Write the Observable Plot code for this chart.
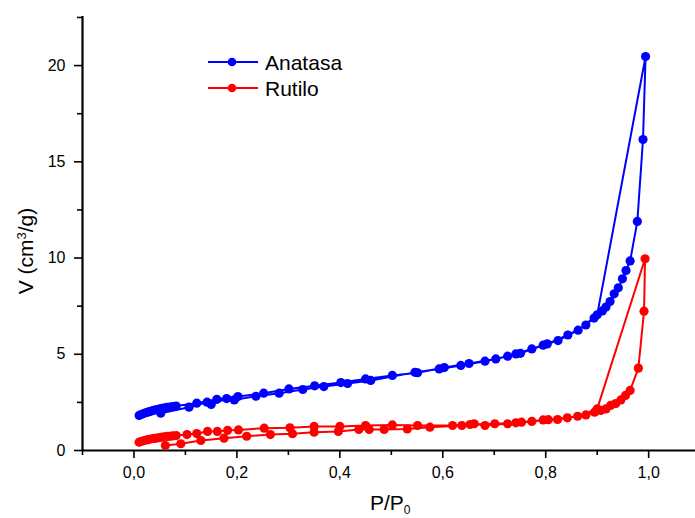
<!DOCTYPE html>
<html><head><meta charset="utf-8">
<script src="https://cdn.jsdelivr.net/npm/d3@7"></script>
<script src="https://cdn.jsdelivr.net/npm/@observablehq/plot@0.6"></script>
<style>
html,body{margin:0;padding:0;background:#fff;overflow:hidden}
#chart svg{display:block}
</style></head><body><div id="chart"></div>
<script>
// ---- data ----
const anatasaAdsP = [0.010,0.015,0.020,0.025,0.030,0.035,0.040,0.045,0.050,0.055,0.060,0.065,0.070,0.075,0.082,0.122,0.161,0.202,0.252,0.301,0.351,0.402,0.450,0.502,0.551,0.603,0.651,0.703,0.751,0.803,0.843,0.878,0.894,0.910,0.917,0.925,0.933,0.941,0.949,0.956,0.964,0.978,0.989,0.994];
const anatasaAdsV = [1.82,1.88,1.93,1.98,2.02,2.06,2.10,2.13,2.16,2.19,2.21,2.24,2.26,2.28,2.31,2.46,2.66,2.80,2.98,3.20,3.36,3.53,3.72,3.90,4.04,4.31,4.52,4.76,5.05,5.54,6.00,6.52,6.88,7.25,7.45,7.74,8.14,8.45,8.92,9.35,9.85,11.90,16.16,20.47];
const anatasaDesP = [0.900,0.863,0.824,0.795,0.773,0.742,0.726,0.682,0.635,0.593,0.546,0.460,0.415,0.369,0.328,0.282,0.237,0.195,0.180,0.150,0.142,0.107,0.052];
const anatasaDesV = [7.05,6.25,5.71,5.47,5.28,5.02,4.90,4.64,4.42,4.24,4.06,3.64,3.48,3.32,3.17,2.98,2.82,2.63,2.70,2.39,2.51,2.25,1.94];

const rutiloAdsP = [0.010,0.015,0.020,0.025,0.030,0.035,0.040,0.045,0.050,0.055,0.060,0.065,0.070,0.075,0.082,0.103,0.122,0.143,0.162,0.182,0.203,0.253,0.303,0.350,0.400,0.450,0.502,0.551,0.619,0.653,0.701,0.742,0.773,0.805,0.842,0.878,0.895,0.907,0.917,0.926,0.936,0.946,0.955,0.964,0.980,0.991,0.993];
const rutiloAdsV = [0.43,0.48,0.52,0.55,0.58,0.61,0.63,0.65,0.67,0.69,0.71,0.73,0.74,0.76,0.78,0.83,0.88,0.99,0.99,1.05,1.07,1.16,1.18,1.25,1.25,1.30,1.33,1.30,1.30,1.35,1.39,1.44,1.51,1.60,1.70,1.85,1.99,2.08,2.16,2.34,2.44,2.63,2.86,3.12,4.28,7.24,9.96];
const rutiloDesP = [0.900,0.862,0.823,0.795,0.753,0.726,0.682,0.661,0.637,0.575,0.531,0.486,0.457,0.437,0.397,0.350,0.308,0.265,0.219,0.175,0.130,0.091,0.061];
const rutiloDesV = [2.16,1.78,1.61,1.59,1.47,1.39,1.30,1.39,1.30,1.21,1.12,1.09,1.09,1.09,0.99,0.95,0.87,0.83,0.74,0.64,0.52,0.35,0.26];

const seriesNames = ["Anatasa","Rutilo"];
const seriesColors = ["#0000ff","#ff0000"];

const xMajorTicks = [0,0.2,0.4,0.6,0.8,1.0];
const xMinorTicks = [-0.1,0.1,0.3,0.5,0.7,0.9];
const yMajorTicks = [0,5,10,15,20];
const yMinorTicks = [2.5,7.5,12.5,17.5,22.5];

// ---- build rows in drawing order (adsorption then desorption) ----
function rows(name, aP, aV, dP, dV) {
  const r = [];
  aP.forEach((p,i) => r.push({series:name, P:p, V:aV[i]}));
  dP.forEach((p,i) => r.push({series:name, P:p, V:dV[i]}));
  return r;
}
const anatasa = rows("Anatasa", anatasaAdsP, anatasaAdsV, anatasaDesP, anatasaDesV);
const rutilo = rows("Rutilo", rutiloAdsP, rutiloAdsV, rutiloDesP, rutiloDesV);

const fmtX = d => d.toFixed(1).replace(".", ",");
const font = "'Liberation Sans', Arial, sans-serif";

const plot = Plot.plot({
  width: 695, height: 518,
  marginLeft: 82, marginRight: 0, marginTop: 16, marginBottom: 68,
  style: {fontFamily: font, fontSize: "16px", color: "#000", background: "#fff"},
  x: {domain: [-0.1, 1.091]},
  y: {domain: [0, 22.55]},
  marks: [
    Plot.axisX({ticks: xMajorTicks, tickSize: 8, tickPadding: 8, tickFormat: fmtX, label: null, fontSize: 16, strokeWidth: 1.6}),
    Plot.axisX({ticks: xMinorTicks, tickSize: 5, tickFormat: null, text: null, label: null, strokeWidth: 1.6}),
    Plot.axisY({ticks: yMajorTicks, tickSize: 8, tickPadding: 9, label: null, fontSize: 16, strokeWidth: 1.6}),
    Plot.axisY({ticks: yMinorTicks, tickSize: 5, text: null, label: null, strokeWidth: 1.6}),
    Plot.ruleX([-0.1], {strokeWidth: 2.2}),
    Plot.ruleY([0], {strokeWidth: 2.2}),
    Plot.line(anatasa, {x: "P", y: "V", stroke: seriesColors[0], strokeWidth: 2}),
    Plot.dot(anatasa, {x: "P", y: "V", fill: seriesColors[0], r: 4.6}),
    Plot.line(rutilo, {x: "P", y: "V", stroke: seriesColors[1], strokeWidth: 2}),
    Plot.dot(rutilo, {x: "P", y: "V", fill: seriesColors[1], r: 4.6})
  ]
});
document.getElementById("chart").appendChild(plot);

const svg = d3.select(plot);
// axis titles
const yl = svg.append("text").attr("transform", "translate(33,251) rotate(-90)")
  .attr("text-anchor", "middle").attr("font-family", font).attr("font-size", 21).attr("fill", "#000");
yl.append("tspan").text("V (cm");
yl.append("tspan").attr("baseline-shift", "super").attr("font-size", 13).text("3");
yl.append("tspan").text("/g)");

const xl = svg.append("text").attr("x", 370).attr("y", 510).attr("text-anchor", "start")
  .attr("font-family", font).attr("font-size", 21).attr("fill", "#000");
xl.append("tspan").text("P/P");
xl.append("tspan").attr("baseline-shift", "-4").attr("font-size", 12).text("0");

// legend
const legendY = [62, 88];
seriesNames.forEach((name, i) => {
  const g = svg.append("g");
  g.append("line").attr("x1", 208).attr("x2", 258).attr("y1", legendY[i]).attr("y2", legendY[i])
    .attr("stroke", seriesColors[i]).attr("stroke-width", 2);
  g.append("circle").attr("cx", 232).attr("cy", legendY[i]).attr("r", 4.3).attr("fill", seriesColors[i]);
  g.append("text").attr("x", 265).attr("y", legendY[i] + 8).attr("text-anchor", "start")
    .attr("font-family", font).attr("font-size", 21).attr("fill", "#000").text(name);
});
</script>
</body></html>
